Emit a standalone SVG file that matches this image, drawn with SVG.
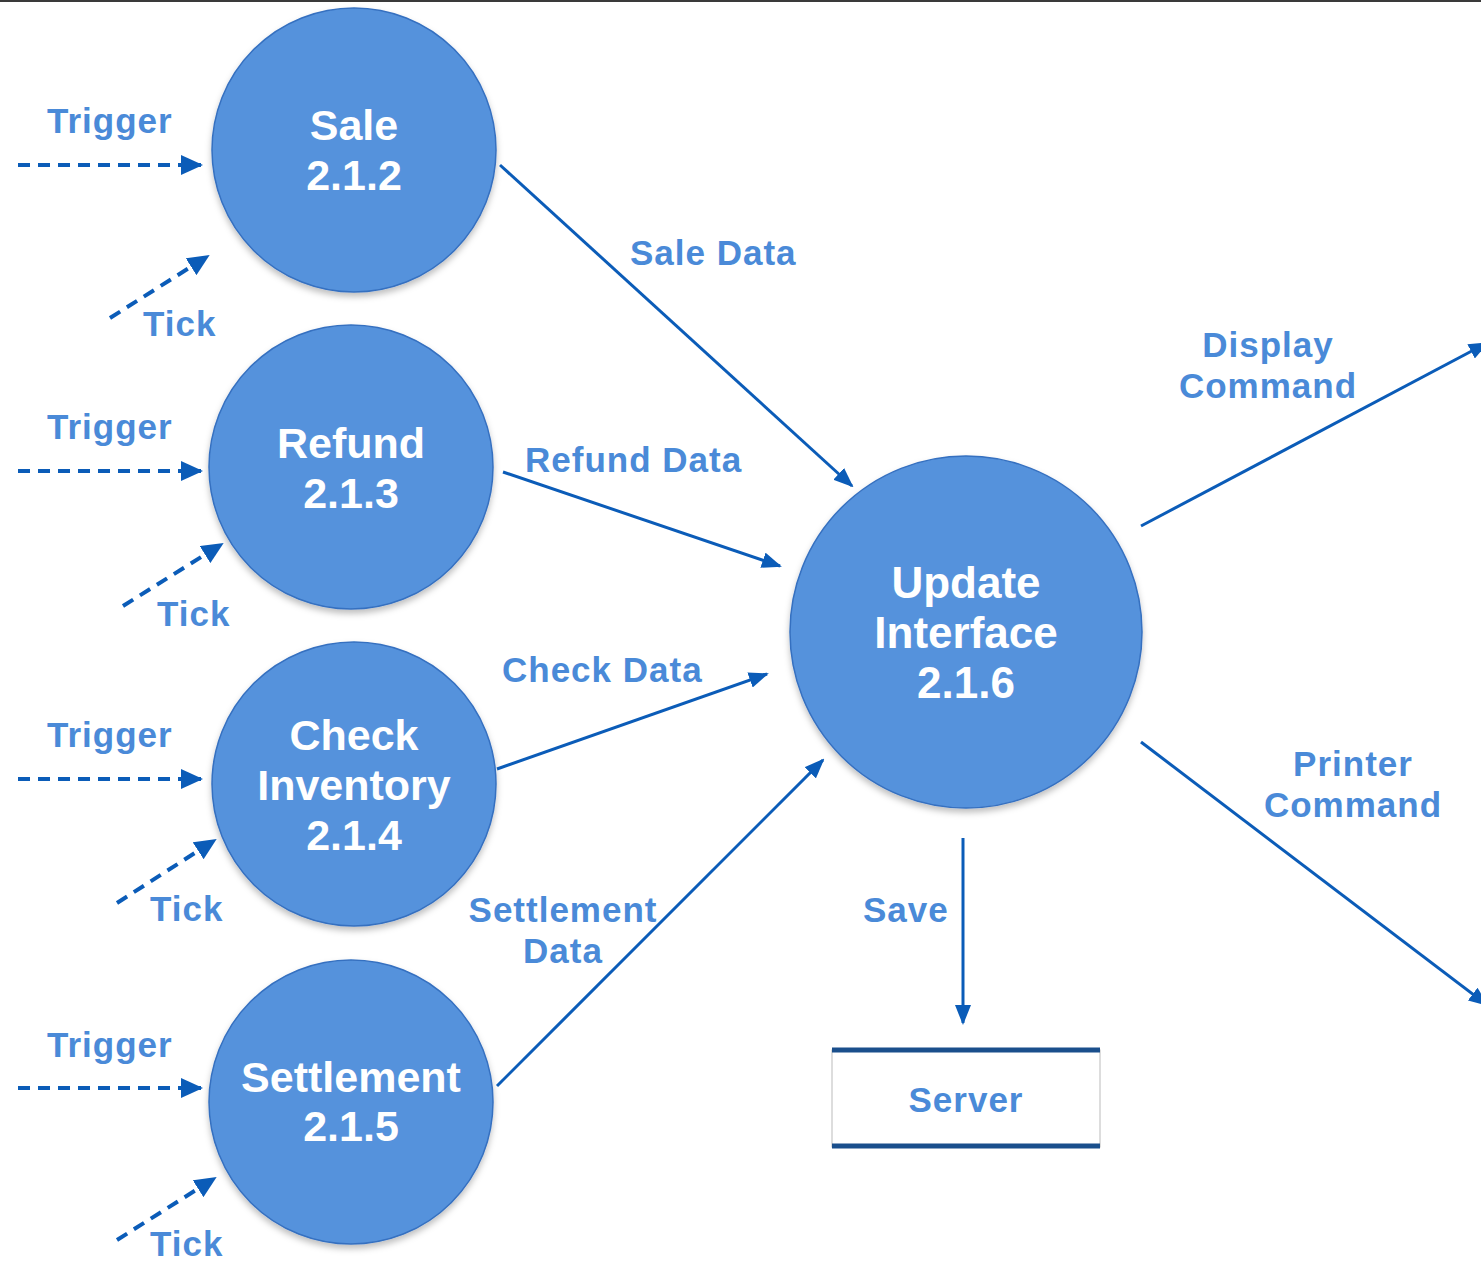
<svg xmlns="http://www.w3.org/2000/svg" width="1481" height="1263" viewBox="0 0 1481 1263">
<style>
.node{fill:#5592dc;stroke:#3570c0;stroke-width:1.5;filter:url(#sh)}
.nt{font-family:"Liberation Sans",Arial,sans-serif;font-weight:bold;font-size:43px;fill:#ffffff;text-anchor:middle}
.lbl{font-family:"Liberation Sans",Arial,sans-serif;font-weight:bold;font-size:35px;fill:#4a8ad8;letter-spacing:1px}
.mid{text-anchor:middle}
.flow{stroke:#0b5cb8;stroke-width:3;fill:none;marker-end:url(#ah)}
.dash{stroke:#0b5cb8;stroke-width:4;fill:none;stroke-dasharray:12 8;marker-end:url(#ah2)}
</style>
<defs>
<filter id="sh" x="-10%" y="-10%" width="120%" height="125%">
<feDropShadow dx="0" dy="4" stdDeviation="3" flood-color="#000" flood-opacity="0.25"/>
</filter>
<marker id="ah" markerUnits="userSpaceOnUse" markerWidth="20" markerHeight="16" refX="18" refY="8" orient="auto">
<path d="M0,0 L20,8 L0,16 Z" fill="#0b5cb8"/>
</marker>
<marker id="ah2" markerUnits="userSpaceOnUse" markerWidth="22" markerHeight="20" refX="20" refY="10" orient="auto">
<path d="M0,0 L22,10 L0,20 Z" fill="#0b5cb8"/>
</marker>
</defs>
<rect x="0" y="0" width="1481" height="2" fill="#3a3a3a"/>

<g id="sale">
<circle class="node" cx="354" cy="150" r="142"/>
<text class="nt" x="354" y="140">Sale</text>
<text class="nt" x="354" y="190">2.1.2</text>
</g>
<g id="refund">
<circle class="node" cx="351" cy="467" r="142"/>
<text class="nt" x="351" y="458">Refund</text>
<text class="nt" x="351" y="508">2.1.3</text>
</g>
<g id="check">
<circle class="node" cx="354" cy="784" r="142"/>
<text class="nt" x="354" y="750">Check</text>
<text class="nt" x="354" y="800">Inventory</text>
<text class="nt" x="354" y="850">2.1.4</text>
</g>
<g id="settlement">
<circle class="node" cx="351" cy="1102" r="142"/>
<text class="nt" x="351" y="1092">Settlement</text>
<text class="nt" x="351" y="1141">2.1.5</text>
</g>
<g id="update">
<circle class="node" cx="966" cy="632" r="176"/>
<text class="nt" x="966" y="598" style="font-size:44px">Update</text>
<text class="nt" x="966" y="648" style="font-size:44px">Interface</text>
<text class="nt" x="966" y="698" style="font-size:44px">2.1.6</text>
</g>
<g id="server">
<rect x="832" y="1050" width="268" height="97" fill="#ffffff" stroke="#bbbbbb" stroke-width="1"/>
<line x1="832" y1="1050" x2="1100" y2="1050" stroke="#1a4f8c" stroke-width="5"/>
<line x1="832" y1="1146" x2="1100" y2="1146" stroke="#1a4f8c" stroke-width="5"/>
<text class="lbl mid" x="966" y="1112">Server</text>
</g>

<g id="connectors">
<line class="dash" x1="18" y1="165" x2="201" y2="165"/>
<line class="dash" x1="18" y1="471" x2="201" y2="471"/>
<line class="dash" x1="18" y1="779" x2="201" y2="779"/>
<line class="dash" x1="18" y1="1088" x2="201" y2="1088"/>
<line class="dash" x1="110" y1="318" x2="208" y2="256"/>
<line class="dash" x1="123" y1="606" x2="222" y2="544"/>
<line class="dash" x1="117" y1="903" x2="215" y2="840"/>
<line class="dash" x1="117" y1="1240" x2="215" y2="1178"/>
<line class="flow" x1="500" y1="165" x2="852" y2="486"/>
<line class="flow" x1="503" y1="472" x2="780" y2="566"/>
<line class="flow" x1="497" y1="769" x2="767" y2="674"/>
<line class="flow" x1="497" y1="1086" x2="823" y2="760"/>
<line class="flow" x1="1141" y1="526" x2="1487" y2="343"/>
<line class="flow" x1="1141" y1="742" x2="1487" y2="1005"/>
<line class="flow" x1="963" y1="838" x2="963" y2="1023"/>
</g>

<g id="labels">
<text class="lbl" x="47" y="133">Trigger</text>
<text class="lbl" x="47" y="439">Trigger</text>
<text class="lbl" x="47" y="747">Trigger</text>
<text class="lbl" x="47" y="1057">Trigger</text>
<text class="lbl" x="143" y="336">Tick</text>
<text class="lbl" x="157" y="626">Tick</text>
<text class="lbl" x="150" y="921">Tick</text>
<text class="lbl" x="150" y="1256">Tick</text>
<text class="lbl" x="630" y="265">Sale Data</text>
<text class="lbl" x="525" y="472">Refund Data</text>
<text class="lbl" x="502" y="682">Check Data</text>
<text class="lbl mid" x="563" y="922">Settlement</text>
<text class="lbl mid" x="563" y="963">Data</text>
<text class="lbl mid" x="1268" y="357">Display</text>
<text class="lbl mid" x="1268" y="398">Command</text>
<text class="lbl mid" x="1353" y="776">Printer</text>
<text class="lbl mid" x="1353" y="817">Command</text>
<text class="lbl" x="863" y="922">Save</text>
</g>
</svg>
